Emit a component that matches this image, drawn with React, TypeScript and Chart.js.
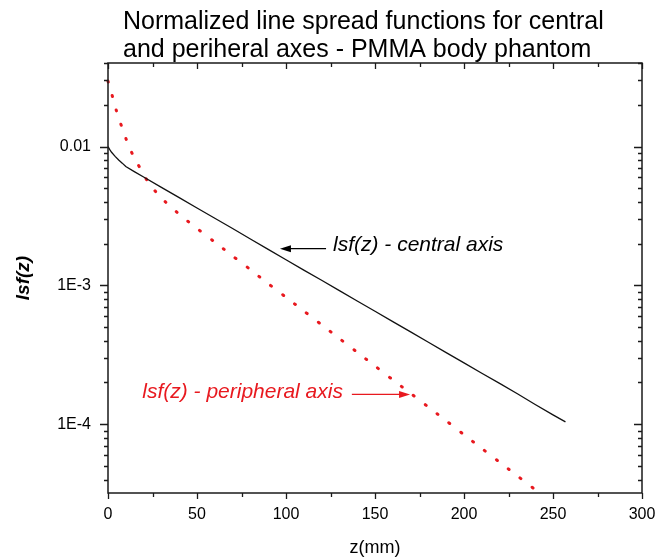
import { useEffect, useRef } from "react";
import { Chart, registerables } from "chart.js";

Chart.register(...registerables);

const FONT = "'Liberation Sans', Arial, Helvetica, sans-serif";
const RED = "#e8191f";

// Central axis LSF (black solid)
const zCentral = [0, 1, 2, 4, 6, 8, 10, 15, 20, 30, 40, 50, 60, 70, 80, 90, 100, 110, 120, 130, 140, 150, 160, 170, 180, 190, 200, 210, 220, 230, 240, 250, 257];
const lsfCentral = [0.01, 0.0095, 0.0091, 0.0085, 0.008, 0.0076, 0.00718, 0.00658, 0.00604, 0.00509, 0.00429, 0.00361, 0.00305, 0.00257, 0.00216, 0.00182, 0.00153, 0.00129, 0.00109, 0.000918, 0.000773, 0.000652, 0.000549, 0.000463, 0.00039, 0.000328, 0.000277, 0.000233, 0.000197, 0.000166, 0.000139, 0.000117, 0.000104];

// Peripheral axis LSF (red dotted)
const zPeripheral = [0, 2, 4, 6, 8.5, 11, 14, 18, 22, 27, 34, 41, 48, 60, 70, 80, 90, 100, 110, 120, 130, 140, 150, 160, 170, 180, 190, 200, 210, 220, 230, 240, 250];
const lsfPeripheral = [0.0296, 0.0242, 0.0195, 0.016, 0.0131, 0.0106, 0.0087, 0.007, 0.0057, 0.0047, 0.0038, 0.00318, 0.00269, 0.00205, 0.00163, 0.0013, 0.00103, 0.000822, 0.000655, 0.000521, 0.000415, 0.00033, 0.000263, 0.000209, 0.000167, 0.000133, 0.000106, 0.0000841, 0.000067, 0.0000533, 0.0000425, 0.0000338, 0.0000269];

const xTicks = [0, 50, 100, 150, 200, 250, 300];
const xMinorTicks = [25, 75, 125, 175, 225, 275];
const yTickValues = [0.01, 0.001, 0.0001];
const yTickLabels = ["0.01", "1E-3", "1E-4"];
const yMin = 3.2e-5;
const yMax = 0.04;

const titleLines = [
  "Normalized line spread functions for central",
  "and periheral axes - PMMA body phantom",
];

const annotations = [
  { text: "lsf(z) - central axis", color: "#000", textZ: 126.4, textV: 0.00196, align: "left", fromZ: 122.5, toZ: 96.6, arrowV: 0.00184 },
  { text: "lsf(z) - peripheral axis", color: RED, textZ: 132, textV: 0.00017, align: "right", fromZ: 137, toZ: 169.7, arrowV: 0.000164 },
];

const decorPlugin = {
  id: "decor",
  afterDatasetsDraw(chart: any) {
    const { ctx, chartArea } = chart;
    const { left, right, top, bottom } = chartArea;
    const xs = chart.scales.x;
    const ys = chart.scales.y;
    ctx.save();
    // frame
    ctx.strokeStyle = "#1a1a1a";
    ctx.lineWidth = 1.5;
    ctx.strokeRect(left, top, right - left, bottom - top);
    ctx.lineWidth = 1.3;
    ctx.beginPath();
    const xTickMarks = [...xTicks.map((v) => [v, 6]), ...xMinorTicks.map((v) => [v, 4])];
    for (const [v, len] of xTickMarks) {
      const px = Math.round(xs.getPixelForValue(v)) + 0.5;
      ctx.moveTo(px, bottom);
      ctx.lineTo(px, bottom + len);
      ctx.moveTo(px, top);
      ctx.lineTo(px, top + len);
    }
    for (let e = -6; e <= 0; e++) {
      for (let m = 1; m <= 9; m++) {
        const v = m * Math.pow(10, e);
        if (v < yMin || v > yMax) continue;
        const py = Math.round(ys.getPixelForValue(v)) + 0.5;
        const len = m === 1 ? 8 : 4;
        ctx.moveTo(left - len, py);
        ctx.lineTo(left, py);
        ctx.moveTo(right - len, py);
        ctx.lineTo(right, py);
      }
    }
    ctx.stroke();

    // annotations
    for (const a of annotations) {
      ctx.fillStyle = a.color;
      ctx.strokeStyle = a.color;
      ctx.font = `italic 21px ${FONT}`;
      ctx.textBaseline = "middle";
      ctx.textAlign = a.align as CanvasTextAlign;
      ctx.fillText(a.text, xs.getPixelForValue(a.textZ), ys.getPixelForValue(a.textV));
      const x1 = xs.getPixelForValue(a.fromZ);
      const x2 = xs.getPixelForValue(a.toZ);
      const y = ys.getPixelForValue(a.arrowV);
      const dir = Math.sign(x2 - x1);
      ctx.lineWidth = 1.3;
      ctx.beginPath();
      ctx.moveTo(x1, y);
      ctx.lineTo(x2 - dir * 8, y);
      ctx.stroke();
      ctx.beginPath();
      ctx.moveTo(x2, y);
      ctx.lineTo(x2 - dir * 11, y - 3.5);
      ctx.lineTo(x2 - dir * 11, y + 3.5);
      ctx.closePath();
      ctx.fill();
    }

    // title
    ctx.fillStyle = "#000";
    ctx.font = `25px ${FONT}`;
    ctx.textAlign = "left";
    ctx.textBaseline = "alphabetic";
    titleLines.forEach((line, i) => {
      ctx.fillText(line, left + 15, 29 + i * 28);
    });
    ctx.restore();
  },
};

export default function App() {
  const ref = useRef<HTMLCanvasElement | null>(null);
  useEffect(() => {
    if (!ref.current) return;
    const chart = new Chart(ref.current, {
      type: "line",
      data: {
        datasets: [
          {
            label: "central",
            data: zCentral.map((z, i) => ({ x: z, y: lsfCentral[i] })),
            borderColor: "#111",
            borderWidth: 1.3,
            pointRadius: 0,
            tension: 0,
          },
          {
            label: "peripheral",
            data: zPeripheral.map((z, i) => ({ x: z, y: lsfPeripheral[i] })),
            borderColor: RED,
            borderWidth: 3,
            borderDash: [1, 14],
            borderCapStyle: "round",
            pointRadius: 0,
            tension: 0.2,
            clip: { left: 3, top: 3, right: 0, bottom: 0 },
          },
        ],
      },
      options: {
        animation: false,
        responsive: false,
        maintainAspectRatio: false,
        layout: { padding: { top: 63, right: 27, left: 0, bottom: 0 } },
        plugins: {
          legend: { display: false },
          title: { display: false },
          tooltip: { enabled: false },
        },
        scales: {
          x: {
            type: "linear",
            min: 0,
            max: 300,
            afterFit: (s: any) => {
              s.height = 66;
            },
            afterBuildTicks: (s: any) => {
              s.ticks = xTicks.map((v) => ({ value: v }));
            },
            grid: { display: false, drawTicks: false },
            border: { display: false },
            ticks: {
              padding: 12,
              color: "#000",
              font: { family: FONT, size: 16 },
              maxRotation: 0,
              autoSkip: false,
            },
            title: {
              display: true,
              text: "z(mm)",
              color: "#000",
              font: { family: FONT, size: 18 },
              padding: { top: 0, bottom: 0 },
            },
          },
          y: {
            type: "logarithmic",
            min: yMin,
            max: yMax,
            afterFit: (s: any) => {
              s.width = 108;
            },
            afterBuildTicks: (s: any) => {
              s.ticks = yTickValues.map((v) => ({ value: v }));
            },
            grid: { display: false, drawTicks: false },
            border: { display: false },
            ticks: {
              padding: 17,
              color: "#000",
              font: { family: FONT, size: 16 },
              autoSkip: false,
              callback: (v: any) => {
                const i = yTickValues.findIndex((t) => Math.abs(t - v) / t < 1e-6);
                return i >= 0 ? yTickLabels[i] : "";
              },
            },
            title: {
              display: true,
              text: "lsf(z)",
              color: "#000",
              font: { family: FONT, size: 19, weight: "bold", style: "italic" },
              padding: { top: 12, bottom: 0 },
            },
          },
        },
      },
      plugins: [decorPlugin],
    } as any);
    return () => chart.destroy();
  }, []);
  return (
    <div style={{ position: "fixed", left: 0, top: 0, width: 669, height: 559, background: "#fff" }}>
      <canvas ref={ref} width={669} height={559} style={{ display: "block" }} />
    </div>
  );
}
